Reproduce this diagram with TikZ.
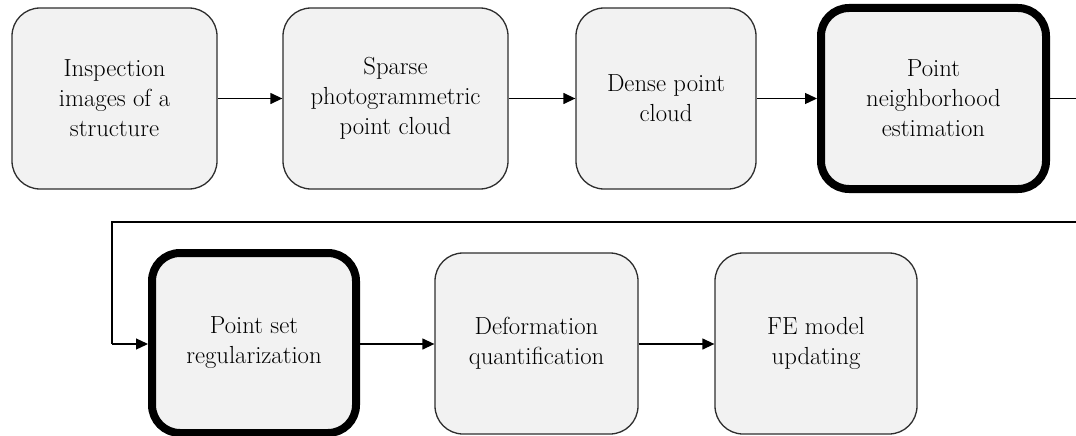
\documentclass[tikz,border=0pt]{standalone}
\usetikzlibrary{arrows.meta}
\definecolor{boxfill}{HTML}{F2F2F2}
\definecolor{boxline}{HTML}{2E2E2E}
\tikzset{
  x=1pt, y=-1pt,
  stage/.style={draw=boxline, fill=boxfill, line width=1.3pt, rounded corners=28pt,
    rectangle, inner sep=0pt, align=center,
    font=\fontsize{24.7}{30}\selectfont},
  keystage/.style={stage, draw=black, line width=8pt},
  flow/.style={draw=black, line width=1.3pt, -{Triangle[length=12pt,width=11pt]}},
  link/.style={draw=black, line width=1.3pt}
}
\begin{document}
\begin{tikzpicture}
\useasboundingbox (0,0) rectangle (1076,436);
% first row
\node[stage, minimum width=205pt, minimum height=181pt] (img) at (114.5,98.5) {Inspection\\images of a\\structure};
\node[stage, minimum width=225pt, minimum height=181pt] (sparse) at (395.5,98.5) {Sparse\\photogrammetric\\point cloud};
\node[stage, minimum width=180pt, minimum height=181pt] (dense) at (666,98.5) {Dense point\\cloud};
\node[keystage, minimum width=225pt, minimum height=181pt] (neigh) at (933.5,98.5) {Point\\neighborhood\\estimation};
% second row
\node[keystage, minimum width=204pt, minimum height=180pt] (reg) at (254,343) {Point set\\regularization};
\node[stage, minimum width=203pt, minimum height=181pt] (deform) at (536.5,343.5) {Deformation\\quantification};
\node[stage, minimum width=202pt, minimum height=181pt] (fe) at (816,343.5) {FE model\\updating};
% route from the end of the first row back to the start of the second
\coordinate (r1) at (1076,98.5);
\coordinate (r2) at (1076,222);
\coordinate (r3) at (112,222);
\coordinate (r4) at (112,344);
% connectors
\draw[flow] (img.east) -- (sparse.west);
\draw[flow] (sparse.east) -- (dense.west);
\draw[flow] (dense.east) -- (neigh.west);
\draw[link] (neigh.east) -- (r1);
\draw[link] (r2) -- (r3) -- (r4);
\draw[flow] (r4) -- (reg.west |- r4);
\draw[flow] (reg.east |- r4) -- (deform.west |- r4);
\draw[flow] (deform.east |- r4) -- (fe.west |- r4);
\end{tikzpicture}
\end{document}
